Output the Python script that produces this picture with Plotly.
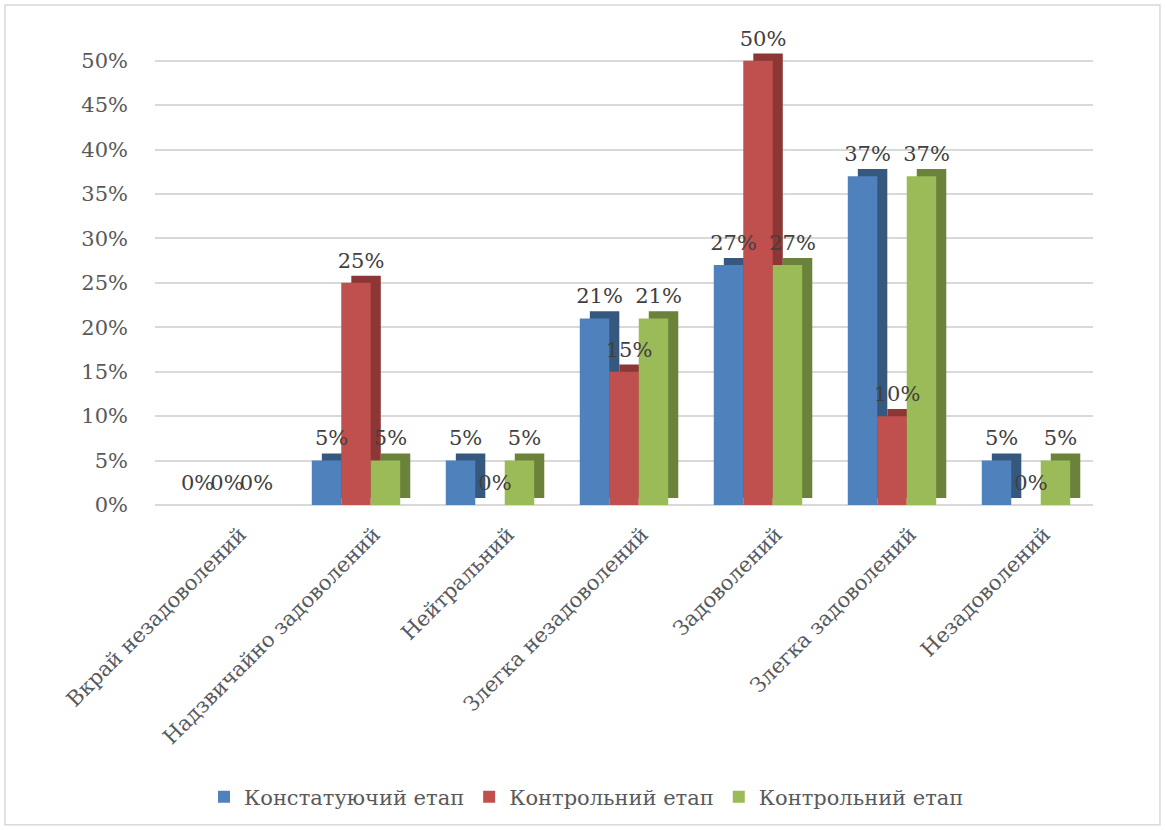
import plotly.graph_objects as go

categories = ["Вкрай незадоволений", "Надзвичайно задоволений", "Нейтральний",
              "Злегка незадоволений", "Задоволений", "Злегка задоволений", "Незадоволений"]
series_names = ["Констатуючий етап", "Контрольний етап", "Контрольний етап"]
constat = [0, 5, 5, 21, 27, 37, 5]
control1 = [0, 25, 0, 15, 50, 10, 0]
control2 = [0, 5, 5, 21, 27, 37, 5]
y_ticks = [0, 5, 10, 15, 20, 25, 30, 35, 40, 45, 50]
y_tick_labels = ["0%", "5%", "10%", "15%", "20%", "25%", "30%", "35%", "40%", "45%", "50%"]

series = [constat, control1, control2]
front_colors = ["#4F81BD", "#C0504D", "#9BBB59"]
side_colors = ["#36587F", "#8C3735", "#6A8239"]

FONT = "DejaVu Serif"
W = 0.22          # bar width (category units)
DX = 0.075        # depth shift in x
DY = 0.8          # depth shift in y (percent units)
start = -1.5 * W

fig = go.Figure()
for i, (vals, name) in enumerate(zip(series, series_names)):
    off = start + i * W
    fig.add_trace(go.Bar(
        x=categories, y=vals, base=DY, offset=off + DX, width=W,
        marker=dict(color=side_colors[i], line=dict(width=0)),
        showlegend=False, hoverinfo="skip", cliponaxis=False))
    fig.add_trace(go.Bar(
        x=categories, y=vals, offset=off, width=W, name=name,
        marker=dict(color=front_colors[i], line=dict(width=0)),
        cliponaxis=False))

for i, vals in enumerate(series):
    off = start + i * W
    fig.add_trace(go.Bar(
        x=categories, y=vals, base=DY, offset=off + DX / 2, width=W,
        marker=dict(color="rgba(0,0,0,0)", line=dict(width=0)),
        text=[f"{v}%" for v in vals], textposition="outside",
        constraintext="none", textangle=0,
        textfont=dict(family=FONT, size=21, color="#404040"),
        showlegend=False, hoverinfo="skip", cliponaxis=False))

fig.update_layout(
    width=1165, height=830,
    margin=dict(l=155, r=72, t=34, b=325),
    barmode="overlay",
    paper_bgcolor="white", plot_bgcolor="white",
    font=dict(family=FONT, size=21, color="#595959"),
    legend=dict(orientation="h", x=0.46, xanchor="center", y=-0.62, yanchor="middle",
                font=dict(family=FONT, size=21, color="#595959"),
                itemwidth=30, tracegroupgap=0),
    xaxis=dict(type="category", tickangle=-45, showgrid=False, showline=False,
               ticks="", tickfont=dict(family=FONT, size=21, color="#595959"),
               ticklabelshift=18, ticklabelstandoff=12),
    yaxis=dict(range=[0, 53], tickvals=y_ticks, ticktext=y_tick_labels, showgrid=True,
               gridcolor="#D9D9D9", gridwidth=2, zeroline=True, zerolinecolor="#D9D9D9",
               zerolinewidth=2, showline=False, ticks="",
               tickfont=dict(family=FONT, size=21, color="#595959"), ticklabelstandoff=26),
    shapes=[dict(type="rect", xref="paper", yref="paper",
                 x0=-0.160, x1=1.0714, y0=-0.679, y1=1.0616,
                 line=dict(color="#D9D9D9", width=1.5), layer="below")],
)

fig.write_html("out.html")
